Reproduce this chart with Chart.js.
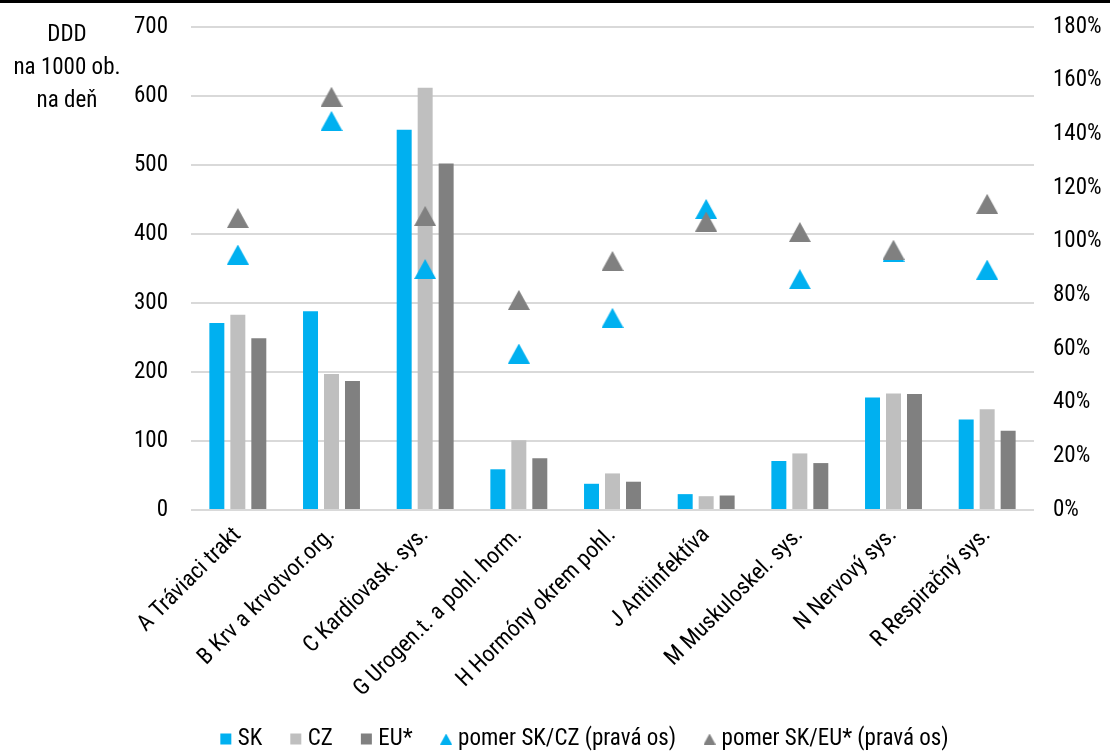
<!DOCTYPE html>
<html>
<head>
<meta charset="utf-8">
<script src="https://cdn.jsdelivr.net/npm/chart.js@4/dist/chart.umd.min.js"></script>
<style>
  html, body { margin: 0; padding: 0; background: #fff; }
  #wrap { width: 1110px; height: 751px; position: relative; }
</style>
</head>
<body>
<div id="wrap"><canvas id="chart" width="1110" height="751"></canvas></div>
<script>
// ATC groups
const categories = [
  'A Tráviaci trakt',
  'B Krv a krvotvor.org.',
  'C Kardiovask. sys.',
  'G Urogen.t. a pohl. horm.',
  'H Hormóny okrem pohl.',
  'J Antiinfektíva',
  'M Muskuloskel. sys.',
  'N Nervový sys.',
  'R Respiračný sys.'
];

// DDD per 1000 inhabitants per day
const skValues = [271, 288, 551, 59, 38, 23, 71, 163, 131];
const czValues = [283, 197, 612, 101, 53, 20, 82, 169, 146];
const euValues = [249, 187, 502, 75, 41, 21, 68, 168, 115];

// ratios in percent (right axis)
const ratioSkCz = [95.2, 145, 89.8, 58.3, 71.6, 112.2, 86, 96.2, 89.6];
const ratioSkEu = [108.8, 154, 109.6, 78.3, 92.8, 107.5, 103.6, 97, 114.1];

const leftTicks = [0, 100, 200, 300, 400, 500, 600, 700];
const rightTicks = [0, 20, 40, 60, 80, 100, 120, 140, 160, 180];
const axisTitle = ['DDD', 'na 1000 ob.', 'na deň'];

const BLUE = '#00b0f0', LIGHT = '#bfbfbf', DARK = '#808080';
const FONT = '"Roboto Condensed", "Liberation Sans", sans-serif';
const FS = 23;

function triangle(color, w, h) {
  const c = document.createElement('canvas');
  c.width = w; c.height = h;
  const g = c.getContext('2d');
  g.fillStyle = color;
  g.beginPath();
  g.moveTo(w / 2, 0);
  g.lineTo(w, h);
  g.lineTo(0, h);
  g.closePath();
  g.fill();
  return c;
}

const triBlue = triangle(BLUE, 22, 20);
const triGray = triangle(DARK, 22, 20);
const legendTriBlue = triangle(BLUE, 12, 11);
const legendTriGray = triangle(DARK, 12, 11);

const decor = {
  id: 'decor',
  beforeDraw(chart) {
    const ctx = chart.ctx;
    ctx.save();
    ctx.fillStyle = '#000';
    ctx.fillRect(0, 0, chart.width, 3);
    ctx.restore();
  },
  afterDraw(chart) {
    const ctx = chart.ctx;
    ctx.save();
    ctx.fillStyle = '#000';
    ctx.font = FS + 'px ' + FONT;
    ctx.textAlign = 'center';
    ctx.textBaseline = 'middle';
    axisTitle.forEach((t, i) => ctx.fillText(t, 67, 35 + i * 33));
    ctx.restore();
  }
};

// value axes keep the plot edges fixed; labels may overhang
function fixVertical(width) {
  return s => { s.width = width; s.paddingTop = 0; s.paddingBottom = 0; };
}

const barOpts = { yAxisID: 'y', order: 2, categoryPercentage: 0.672, barPercentage: 0.714 };

new Chart(document.getElementById('chart'), {
  data: {
    labels: categories,
    datasets: [
      Object.assign({ type: 'bar', label: 'SK', data: skValues, backgroundColor: BLUE }, barOpts),
      Object.assign({ type: 'bar', label: 'CZ', data: czValues, backgroundColor: LIGHT }, barOpts),
      Object.assign({ type: 'bar', label: 'EU*', data: euValues, backgroundColor: DARK }, barOpts),
      { type: 'line', label: 'pomer SK/CZ (pravá os)', data: ratioSkCz, yAxisID: 'y2', order: 1,
        showLine: false, pointStyle: triBlue, backgroundColor: BLUE, borderColor: BLUE },
      { type: 'line', label: 'pomer SK/EU* (pravá os)', data: ratioSkEu, yAxisID: 'y2', order: 0,
        showLine: false, pointStyle: triGray, backgroundColor: DARK, borderColor: DARK }
    ]
  },
  options: {
    responsive: false,
    animation: false,
    events: [],
    layout: { padding: { left: 64, right: 0, top: 27, bottom: -9.5 } },
    scales: {
      x: {
        grid: { display: false },
        border: { display: false },
        ticks: { color: '#000', font: { family: FONT, size: FS }, minRotation: 45, maxRotation: 45, autoSkip: false, padding: 4 },
        afterFit(s) { s.height = 184.5; }
      },
      y: {
        position: 'left',
        min: 0, max: 700,
        afterBuildTicks(s) { s.ticks = leftTicks.map(v => ({ value: v })); },
        grid: { color: '#d9d9d9', lineWidth: 2, drawTicks: false },
        border: { display: false },
        ticks: { color: '#000', font: { family: FONT, size: FS }, padding: 23 },
        afterFit: fixVertical(127)
      },
      y2: {
        position: 'right',
        min: 0, max: 180,
        afterBuildTicks(s) { s.ticks = rightTicks.map(v => ({ value: v })); },
        grid: { drawOnChartArea: false, drawTicks: false },
        border: { display: false },
        ticks: { color: '#000', font: { family: FONT, size: FS }, padding: 19, callback: v => v + '%' },
        afterFit: fixVertical(76)
      }
    },
    plugins: {
      tooltip: { enabled: false },
      legend: {
        position: 'bottom',
        labels: {
          usePointStyle: true,
          boxWidth: 1,
          boxHeight: 11,
          padding: 33,
          color: '#000',
          font: { family: FONT, size: FS },
          generateLabels(chart) {
            const items = Chart.defaults.plugins.legend.labels.generateLabels(chart);
            items.forEach(it => {
              const ds = chart.data.datasets[it.datasetIndex];
              it.lineWidth = 0;
              if (ds.type === 'line') {
                it.pointStyle = ds.label.indexOf('CZ') >= 0 ? legendTriBlue : legendTriGray;
              } else {
                it.pointStyle = 'rect';
                it.fillStyle = ds.backgroundColor;
              }
            });
            return items.sort((a, b) => a.datasetIndex - b.datasetIndex);
          }
        }
      }
    }
  },
  plugins: [decor]
});
</script>
</body>
</html>
